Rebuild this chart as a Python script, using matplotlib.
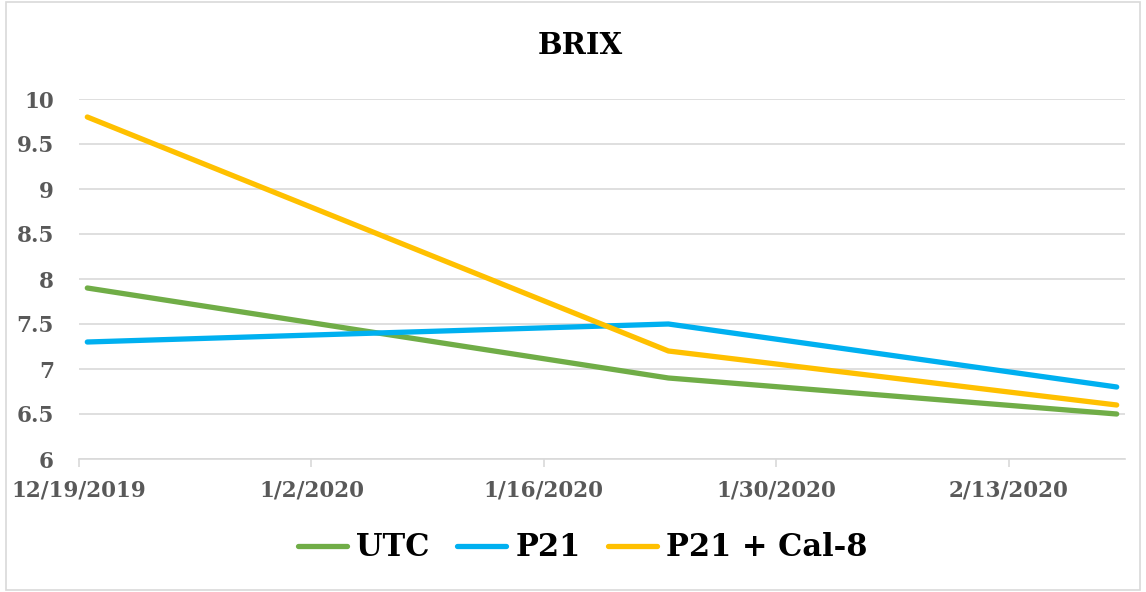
import matplotlib.pyplot as plt
import matplotlib.patches as patches
import pandas as pd

dates = pd.to_datetime(['2019-12-19', '2020-01-23', '2020-02-19'])
utc = [7.9, 6.9, 6.5]
p21 = [7.3, 7.5, 6.8]
p21_cal8 = [9.8, 7.2, 6.6]
series_names = ['UTC', 'P21', 'P21 + Cal-8']
tick_dates = pd.to_datetime(['2019-12-19', '2020-01-02', '2020-01-16', '2020-01-30', '2020-02-13'])
tick_labels = ['12/19/2019', '1/2/2020', '1/16/2020', '1/30/2020', '2/13/2020']
yticks = [6, 6.5, 7, 7.5, 8, 8.5, 9, 9.5, 10]

colors = ['#70ad47', '#00b0f0', '#ffc000']
serif = ['DejaVu Serif']

fig = plt.figure(figsize=(11.46, 5.92), dpi=100)
ax = fig.add_axes([79/1146, 1 - 459/592, (1125 - 79)/1146, (459 - 99)/592])

# points sit in the middle of their day, as in excel date axes
x = dates + pd.Timedelta(hours=12)
for vals, c, name in zip([utc, p21, p21_cal8], colors, series_names):
    ax.plot(x, vals, color=c, lw=3.8, solid_capstyle='round', label=name)

ax.set_xlim(pd.Timestamp('2019-12-19'), pd.Timestamp('2020-02-20'))
ax.set_ylim(6, 10)
ax.set_yticks(yticks)
ax.set_yticklabels(['6', '6.5', '7', '7.5', '8', '8.5', '9', '9.5', '10'])
ax.set_xticks(tick_dates)
ax.set_xticklabels(tick_labels)

ax.grid(axis='y', color='#d9d9d9', lw=1.2)
ax.set_axisbelow(True)
for s in ['left', 'right', 'top']:
    ax.spines[s].set_visible(False)
ax.spines['bottom'].set_color('#d9d9d9')
ax.spines['bottom'].set_linewidth(1.2)
ax.tick_params(axis='y', length=0, pad=18)
ax.tick_params(axis='x', length=6, color='#d9d9d9', width=1.2, pad=9)
for lab in ax.get_xticklabels() + ax.get_yticklabels():
    lab.set_family(serif)
    lab.set_fontweight('heavy')
    lab.set_fontsize(15.5)
    lab.set_color('#595959')

fig.text(580/1146, 1 - 45/592, 'BRIX', ha='center', va='center',
         fontsize=21, fontweight='heavy', family=serif, color='black')

leg = fig.legend(loc='center', bbox_to_anchor=(583/1146, 1 - 548/592), ncol=3,
                 frameon=False, handlelength=1.6, handletextpad=0.3, columnspacing=0.9,
                 prop={'family': serif, 'weight': 'heavy', 'size': 22})

fig.patches.append(patches.Rectangle((6/1146, 2/592), 1 - 12/1146, 1 - 4/592,
                                     transform=fig.transFigure, fill=False,
                                     edgecolor='#d9d9d9', lw=1.2))

fig.savefig('out.png', dpi=100)
